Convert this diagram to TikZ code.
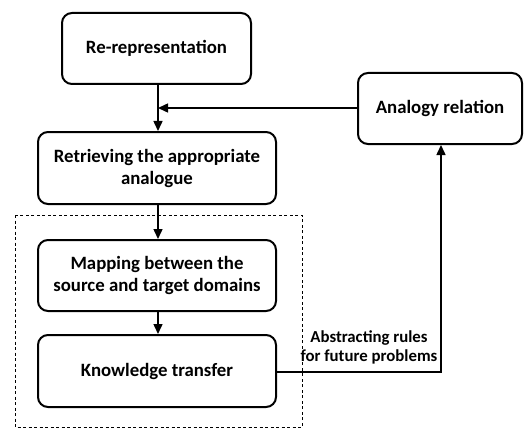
\documentclass[tikz,border=0pt]{standalone}
\usepackage{fontspec}
\setmainfont{Carlito}
\usetikzlibrary{arrows.meta}
\begin{document}
\begin{tikzpicture}[x=1pt,y=-1pt,
  stepbox/.style={draw=black,line width=2pt,rounded corners=10pt,align=center,
    font=\bfseries\fontsize{18.8}{22}\selectfont,inner sep=0pt},
  conn/.style={line width=1.5pt,-{Triangle[length=10pt,width=9pt]}},
  lbl/.style={align=center,font=\bfseries\fontsize{16.8}{19.5}\selectfont,inner sep=0pt}]
\useasboundingbox (0,0) rectangle (528,428);
\node[stepbox,minimum width=189pt,minimum height=71pt] (rerep) at (156.5,48.5) {Re-representation};
\node[stepbox,minimum width=238pt,minimum height=72pt] (retr) at (157,168) {Retrieving the appropriate\\analogue};
\node[stepbox,minimum width=238pt,minimum height=71pt] (map) at (157,275.5) {Mapping between the\\source and target domains};
\node[stepbox,minimum width=238pt,minimum height=72pt] (kt) at (157,371) {Knowledge transfer};
\node[stepbox,minimum width=164pt,minimum height=71pt] (anal) at (440,108.5) {Analogy relation};
\draw[line width=1pt,dash pattern=on 3pt off 2.5pt] (15,215) rectangle (302,427);
\coordinate (junc) at (158,108);
\coordinate (turn) at (441,372);
\draw[conn] (rerep.south -| junc) -- (retr.north -| junc);
\draw[conn] (anal.west |- junc) -- (junc);
\draw[conn] (retr.south -| junc) -- (map.north -| junc);
\draw[conn] (map.south -| junc) -- (kt.north -| junc);
\draw[conn] (kt.east |- turn) -- (turn) -- (anal.south -| turn);
\node[lbl] (abs) at (369,347.5) {Abstracting rules\\for future problems};
\end{tikzpicture}
\end{document}
